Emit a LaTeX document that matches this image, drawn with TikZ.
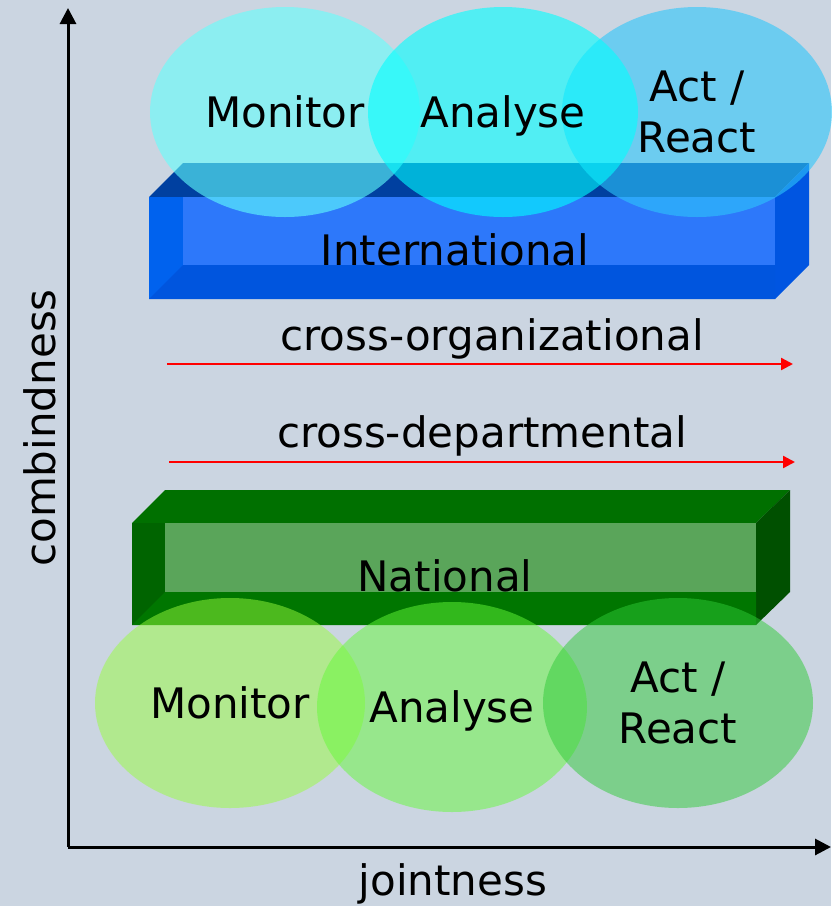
\documentclass[tikz,border=0pt]{standalone}
\usepackage{fontspec}
\setmainfont{DejaVu Sans}
\usetikzlibrary{shapes.geometric,arrows.meta,positioning}
\definecolor{bgcol}{RGB}{203,213,225}
\definecolor{bluetop}{RGB}{0,64,160}
\definecolor{blueside}{RGB}{0,85,225}
\definecolor{bluefront}{RGB}{0,98,238}
\definecolor{blueback}{RGB}{45,120,250}
\definecolor{bluebottom}{RGB}{0,85,222}
\definecolor{greentop}{RGB}{0,112,0}
\definecolor{greenside}{RGB}{0,80,0}
\definecolor{greenfront}{RGB}{0,100,0}
\definecolor{greenback}{RGB}{90,165,90}
\definecolor{greenbottom}{RGB}{0,118,0}
\definecolor{monblue}{RGB}{98,255,253}
\definecolor{anablue}{RGB}{0,255,255}
\definecolor{actblue}{RGB}{45,198,250}
\definecolor{mongreen}{RGB}{153,253,61}
\definecolor{anagreen}{RGB}{100,250,56}
\definecolor{actgreen}{RGB}{47,203,55}
\begin{document}
\begin{tikzpicture}[x=0.5pt,y=-0.5pt,
    every node/.style={font=\fontsize{21}{25.5}\selectfont},
    phase/.style={ellipse,minimum width=135pt,minimum height=105pt,inner sep=0pt,align=center,text depth=0pt},
    axis/.style={line width=1.5pt,-{Triangle[length=8pt,width=8pt]}},
    trend/.style={red,line width=1.2pt,-{Triangle[length=6pt,width=6pt]}}]
    \fill[bgcol] (0,0) rectangle (831,906);
    \useasboundingbox (0,0) rectangle (831,906);
    % international bar
    \fill[bluetop] (149,197) -- (183,163) -- (809,163) -- (775,197) -- cycle;
    \fill[blueside] (775,197) -- (809,163) -- (809,265) -- (775,299) -- cycle;
    \fill[bluefront] (149,197) rectangle (775,299);
    \fill[blueback] (183,197) rectangle (775,265);
    \fill[bluebottom] (149,299) -- (183,265) -- (775,265) -- (775,299) -- cycle;
    \node (intl) at (455,250) {International};
    % top circles
    \node[phase,fill=monblue,fill opacity=0.6,text opacity=1] (mon1) at (285,112) {Monitor};
    \node[phase,fill=actblue,fill opacity=0.6,text opacity=1] (act1) at (697,112) {Act /\\React};
    \node[phase,fill=anablue,fill opacity=0.6,text opacity=1] (ana1) at (503,112) {Analyse};
    % national bar
    \fill[greentop] (132,523) -- (165,490) -- (790,490) -- (756,523) -- cycle;
    \fill[greenside] (756,523) -- (790,490) -- (790,592) -- (756,625) -- cycle;
    \fill[greenfront] (132,523) rectangle (756,625);
    \fill[greenback] (165,523) rectangle (756,592);
    \fill[greenbottom] (132,625) -- (165,592) -- (756,592) -- (756,625) -- cycle;
    \node (natl) at (445,576) {National};
    % bottom circles
    \node[phase,fill=mongreen,fill opacity=0.5,text opacity=1] (mon2) at (230,703) {Monitor};
    \node[phase,fill=anagreen,fill opacity=0.5,text opacity=1] (ana2) at (452,707) {Analyse};
    \node[phase,fill=actgreen,fill opacity=0.5,text opacity=1] (act2) at (678,703) {Act /\\React};
    % red arrows
    \coordinate (co1) at (167,364);
    \coordinate (co2) at (793,364);
    \coordinate (cd1) at (169,462);
    \coordinate (cd2) at (795,462);
    \draw[trend] (co1) -- (co2);
    \draw[trend] (cd1) -- (cd2);
    \node (corg) at (492,339) {cross-organizational};
    \node (cdep) at (482,436) {cross-departmental};
    % axes
    \coordinate (O) at (68,847);
    \coordinate (ytip) at (68,8);
    \coordinate (xtip) at (831,847);
    \draw[axis] (O) -- (ytip);
    \draw[axis] (O) -- (xtip);
    \node[rotate=90] (ylab) at (40,428) {combindness};
    \node (xlab) at (453,884) {jointness};
\end{tikzpicture}
\end{document}
